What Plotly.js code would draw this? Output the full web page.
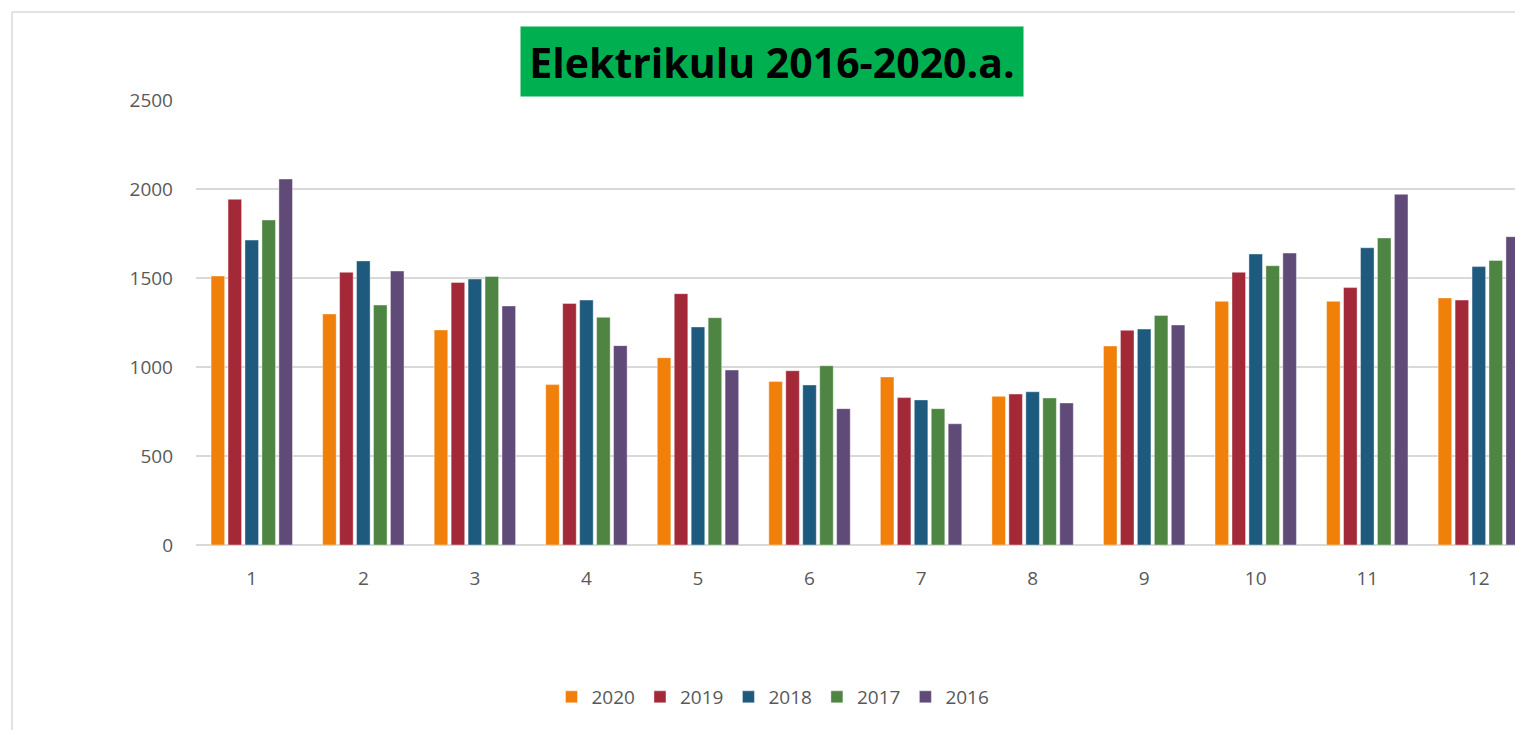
<!DOCTYPE html>
<html>
<head>
<meta charset="utf-8">
<script src="https://cdn.plot.ly/plotly-3.0.1.min.js"></script>
<style>html,body{margin:0;padding:0;background:#fff;overflow:hidden;}#chart{width:1515px;height:730px;}</style>
</head>
<body>
<div id="chart"></div>
<script>
const months = [1,2,3,4,5,6,7,8,9,10,11,12];
const seriesNames = ['2020','2019','2018','2017','2016'];
const v2020 = [1511,1298,1208,901,1052,919,944,835,1118,1369,1369,1388];
const v2019 = [1942,1532,1475,1357,1412,979,828,848,1206,1532,1446,1376];
const v2018 = [1713,1596,1494,1376,1225,899,815,861,1213,1635,1670,1564];
const v2017 = [1826,1348,1509,1279,1277,1007,766,826,1290,1569,1725,1599];
const v2016 = [2056,1539,1343,1120,983,766,681,798,1236,1640,1970,1732];
const yTicks = [0,500,1000,1500,2000,2500];
const titleText = 'Elektrikulu 2016-2020.a.';

const colors = ['#F0800A','#A32838','#1E5A7E','#4E8542','#604A78'];
const allVals = [v2020,v2019,v2018,v2017,v2016];
const FONT = 'Open Sans, sans-serif';

const traces = allVals.map((vals,i)=>({
  type:'bar', x:months, y:vals, name:seriesNames[i],
  marker:{color:colors[i], line:{color:'rgba(255,255,255,0.5)', width:0.8}},
  hoverinfo:'x+y+name'
}));

const W=1515, H=730, L=196, T=100, B=185;
const pw = W-L, ph = H-T-B;
const px2x = p => (p-L)/pw;
const py2y = p => (H-B-p)/ph;

const layout = {
  width:W, height:H,
  margin:{l:L, r:0, t:T, b:B, pad:0},
  paper_bgcolor:'#ffffff', plot_bgcolor:'#ffffff',
  barmode:'group', bargap:0.24, bargroupgap:0.2,
  showlegend:true,
  font:{family:FONT, size:19, color:'#595959'},
  xaxis:{
    range:[0.5, 0.5 + pw/111.55], tickvals:months, ticktext:months.map(String),
    showgrid:false, zeroline:false, showline:false, ticks:'',
    ticklabelstandoff:20,
    tickfont:{family:FONT, size:19, color:'#595959'}, fixedrange:true
  },
  yaxis:{
    range:[0,2500], tickvals:yTicks, ticktext:yTicks.map(String),
    showgrid:true, gridcolor:'#D9D9D9', gridwidth:1.5,
    zeroline:true, zerolinecolor:'#D9D9D9', zerolinewidth:1.5,
    showline:false, ticks:'', ticklabelstandoff:22,
    tickfont:{family:FONT, size:19, color:'#595959'}, fixedrange:true
  },
  legend:{
    orientation:'h', xref:'container', yref:'container',
    x:773/W, xanchor:'center', y:1-697/H, yanchor:'middle',
    font:{family:FONT, size:19, color:'#595959'},
    itemwidth:20, tracegroupgap:0, traceorder:'normal'
  },
  annotations:[{
    xref:'paper', yref:'paper', x:px2x(772), y:py2y(61.5),
    xanchor:'center', yanchor:'middle', showarrow:false,
    text:'<b>'+titleText+'</b>',
    font:{family:'Open Sans, sans-serif', size:41, color:'#000000'},
    bgcolor:'#00B050', width:500, height:67, align:'center', valign:'middle'
  }],
  shapes:[
    {type:'line', xref:'paper', yref:'paper', x0:px2x(12), x1:px2x(12), y0:py2y(12), y1:py2y(735), line:{color:'#D9D9D9', width:1.5}},
    {type:'line', xref:'paper', yref:'paper', x0:px2x(12), x1:px2x(1520), y0:py2y(12), y1:py2y(12), line:{color:'#D9D9D9', width:1.5}}
  ]
};

Plotly.newPlot('chart', traces, layout, {displayModeBar:false, staticPlot:true});
</script>
</body>
</html>
